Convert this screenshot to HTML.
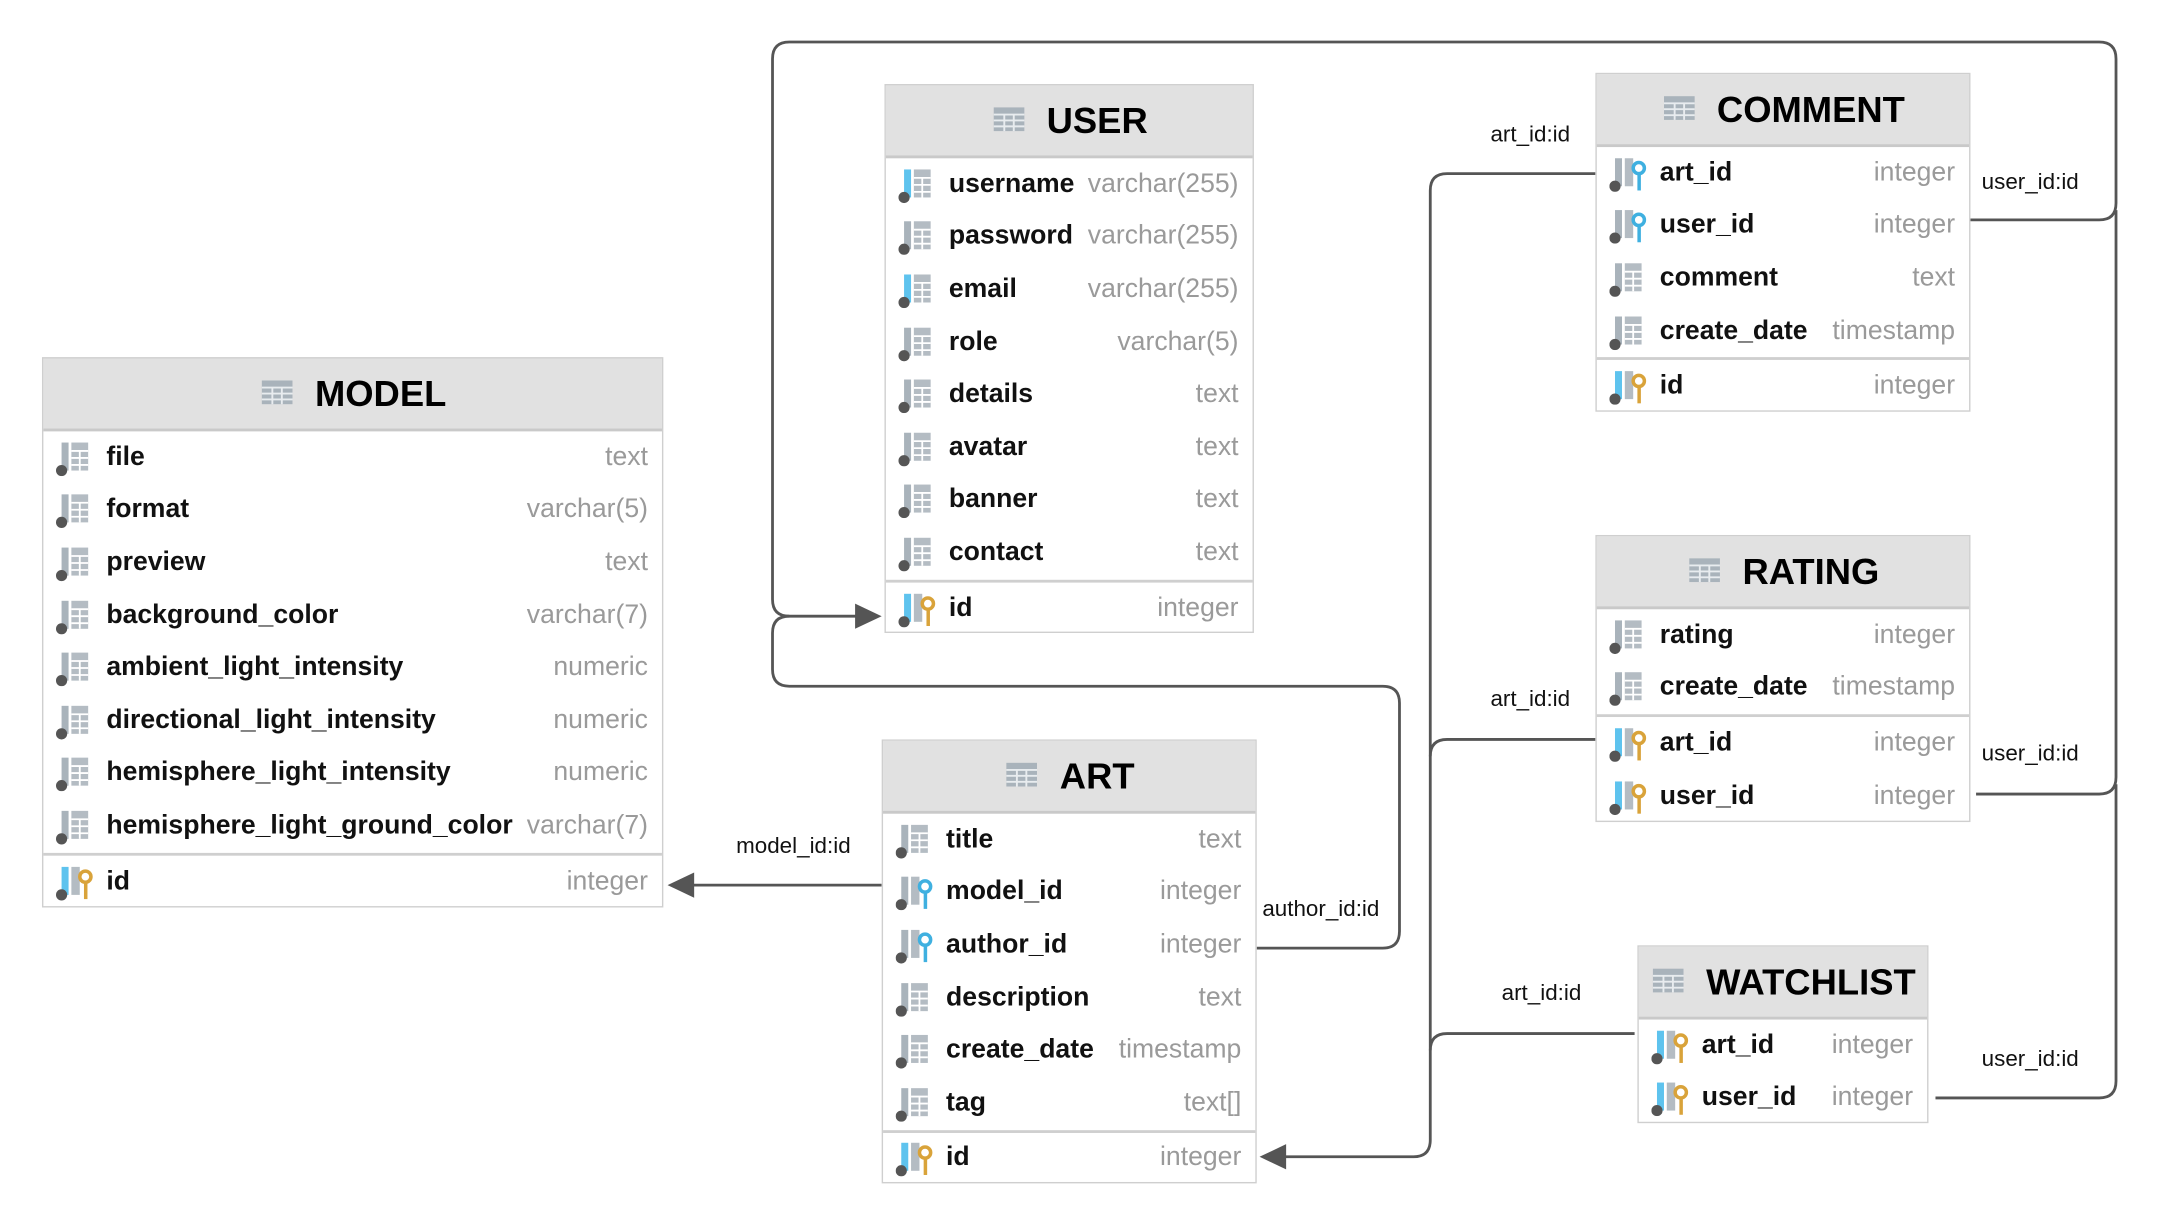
<!DOCTYPE html>
<html><head><meta charset="utf-8">
<style>
html,body{margin:0;padding:0;background:#fff;}
body{width:2172px;height:1210px;overflow:hidden;position:relative;font-family:"Liberation Sans",sans-serif;}
#w{position:absolute;left:0;top:0;width:1552px;height:864px;transform-origin:0 0;transform:scale(1.39948,1.40046);}
.t{position:absolute;background:#fff;border:1px solid #cfcfcf;box-sizing:border-box;}
.h{height:50px;background:#e1e1e1;border-bottom:2px solid #c9c9c9;display:flex;align-items:center;justify-content:center;font-weight:bold;font-size:26px;color:#000;}
.h svg{margin-right:14px;}
.r{height:37.6px;display:flex;align-items:center;padding:0 10px 0 9px;font-size:19px;white-space:nowrap;}
.r svg{flex:none;margin-right:8px;}
.n{font-weight:bold;color:#111;flex:1;}
.y{color:#9a9a9a;}
.s{border-top:2px solid #cfcfcf;}
.l{position:absolute;font-size:16px;color:#111;white-space:nowrap;}
</style></head><body>
<div id="w">
<svg width="1552" height="864" style="position:absolute;left:0;top:0" fill="none">
<defs>
<symbol id="g" viewBox="0 0 26 26"><rect x="0" y="2" width="26" height="20" fill="#a9b3bb"/><g stroke="#e8ecef" stroke-width="1.6"><line x1="0" y1="8" x2="26" y2="8"/><line x1="0" y1="13" x2="26" y2="13"/><line x1="0" y1="18" x2="26" y2="18"/><line x1="9" y1="8" x2="9" y2="22"/><line x1="17" y1="8" x2="17" y2="22"/></g></symbol>
</defs>
<g stroke="#555" stroke-width="2">
<path d="M1407,157 H1500 Q1512,157 1512,145 V42 Q1512,30 1500,30 H564 Q552,30 552,42 V428 Q552,440 564,440 H612"/>
<path d="M1412,567 H1500 Q1512,567 1512,555 V150"/>
<path d="M1383,784 H1500 Q1512,784 1512,772 V560"/>
<path d="M897,677 H988 Q1000,677 1000,665 V502 Q1000,490 988,490 H564 Q552,490 552,478 V452 Q552,440 564,440"/>
<path d="M1140,124 H1034 Q1022,124 1022,136 V814 Q1022,826 1010,826 H918"/>
<path d="M1140,528 H1034 Q1022,528 1022,540"/>
<path d="M1168,738 H1034 Q1022,738 1022,750"/>
<path d="M630,632 H495"/>
</g>
<g fill="#555">
<path d="M630,440 L611,431 L611,449 Z"/>
<path d="M900,826 L919,817 L919,835 Z"/>
<path d="M477,632 L496,623 L496,641 Z"/>
</g>
</svg>
<svg width="0" height="0" style="position:absolute">
<defs>
<symbol id="c" viewBox="0 0 28 26"><rect x="4" y="2" width="5" height="20" fill="#a9b3bb"/><rect x="11" y="2" width="12" height="20" fill="#b4bcc3"/><g stroke="#fff" stroke-width="1.3"><line x1="11" y1="8" x2="23" y2="8"/><line x1="11" y1="13" x2="23" y2="13"/><line x1="11" y1="18" x2="23" y2="18"/><line x1="17" y1="8" x2="17" y2="22"/></g><circle cx="4" cy="22" r="4" fill="#555"/></symbol>
<symbol id="cb" viewBox="0 0 28 26"><rect x="4" y="2" width="5" height="20" fill="#5ec3ee"/><rect x="11" y="2" width="12" height="20" fill="#b4bcc3"/><g stroke="#fff" stroke-width="1.3"><line x1="11" y1="8" x2="23" y2="8"/><line x1="11" y1="13" x2="23" y2="13"/><line x1="11" y1="18" x2="23" y2="18"/><line x1="17" y1="8" x2="17" y2="22"/></g><circle cx="4" cy="22" r="4" fill="#555"/></symbol>
<symbol id="fk" viewBox="0 0 28 26"><rect x="4" y="2" width="5" height="20" fill="#a9b3bb"/><rect x="11" y="2" width="6" height="20" fill="#b4bcc3"/><circle cx="21" cy="9" r="4" stroke="#3fb0e0" stroke-width="2.5" fill="#fff"/><rect x="20" y="12" width="2.5" height="13" fill="#3fb0e0"/><circle cx="4" cy="22" r="4" fill="#555"/></symbol>
<symbol id="pk" viewBox="0 0 28 26"><rect x="4" y="2" width="5" height="20" fill="#5ec3ee"/><rect x="11" y="2" width="6" height="20" fill="#b4bcc3"/><circle cx="21" cy="9" r="4" stroke="#d9a33a" stroke-width="2.5" fill="#fff"/><rect x="20" y="12" width="2.5" height="13" fill="#d9a33a"/><circle cx="4" cy="22" r="4" fill="#555"/></symbol>
<symbol id="pf" viewBox="0 0 28 26"><rect x="4" y="2" width="5" height="20" fill="#5ec3ee"/><rect x="11" y="2" width="6" height="20" fill="#b4bcc3"/><circle cx="21" cy="9" r="4" stroke="#d9a33a" stroke-width="2.5" fill="#fff"/><rect x="20" y="12" width="2.5" height="13" fill="#d9a33a"/><circle cx="4" cy="22" r="4" fill="#555"/></symbol>
</defs></svg>

<!-- MODEL -->
<div class="t" style="left:30px;top:255px;width:444px;height:393px">
<div class="h"><svg width="26" height="22" viewBox="0 0 26 26"><use href="#g"/></svg>MODEL</div>
<div class="r"><svg width="28" height="26"><use href="#c"/></svg><span class="n">file</span><span class="y">text</span></div>
<div class="r"><svg width="28" height="26"><use href="#c"/></svg><span class="n">format</span><span class="y">varchar(5)</span></div>
<div class="r"><svg width="28" height="26"><use href="#c"/></svg><span class="n">preview</span><span class="y">text</span></div>
<div class="r"><svg width="28" height="26"><use href="#c"/></svg><span class="n">background_color</span><span class="y">varchar(7)</span></div>
<div class="r"><svg width="28" height="26"><use href="#c"/></svg><span class="n">ambient_light_intensity</span><span class="y">numeric</span></div>
<div class="r"><svg width="28" height="26"><use href="#c"/></svg><span class="n">directional_light_intensity</span><span class="y">numeric</span></div>
<div class="r"><svg width="28" height="26"><use href="#c"/></svg><span class="n">hemisphere_light_intensity</span><span class="y">numeric</span></div>
<div class="r"><svg width="28" height="26"><use href="#c"/></svg><span class="n">hemisphere_light_ground_color</span><span class="y">varchar(7)</span></div>
<div class="r s"><svg width="28" height="26"><use href="#pk"/></svg><span class="n">id</span><span class="y">integer</span></div>
</div>

<!-- USER -->
<div class="t" style="left:632px;top:60px;width:264px;height:392px">
<div class="h"><svg width="26" height="22" viewBox="0 0 26 26"><use href="#g"/></svg>USER</div>
<div class="r"><svg width="28" height="26"><use href="#cb"/></svg><span class="n">username</span><span class="y">varchar(255)</span></div>
<div class="r"><svg width="28" height="26"><use href="#c"/></svg><span class="n">password</span><span class="y">varchar(255)</span></div>
<div class="r"><svg width="28" height="26"><use href="#cb"/></svg><span class="n">email</span><span class="y">varchar(255)</span></div>
<div class="r"><svg width="28" height="26"><use href="#c"/></svg><span class="n">role</span><span class="y">varchar(5)</span></div>
<div class="r"><svg width="28" height="26"><use href="#c"/></svg><span class="n">details</span><span class="y">text</span></div>
<div class="r"><svg width="28" height="26"><use href="#c"/></svg><span class="n">avatar</span><span class="y">text</span></div>
<div class="r"><svg width="28" height="26"><use href="#c"/></svg><span class="n">banner</span><span class="y">text</span></div>
<div class="r"><svg width="28" height="26"><use href="#c"/></svg><span class="n">contact</span><span class="y">text</span></div>
<div class="r s"><svg width="28" height="26"><use href="#pk"/></svg><span class="n">id</span><span class="y">integer</span></div>
</div>

<!-- COMMENT -->
<div class="t" style="left:1140px;top:52px;width:268px;height:242px">
<div class="h"><svg width="26" height="22" viewBox="0 0 26 26"><use href="#g"/></svg>COMMENT</div>
<div class="r"><svg width="28" height="26"><use href="#fk"/></svg><span class="n">art_id</span><span class="y">integer</span></div>
<div class="r"><svg width="28" height="26"><use href="#fk"/></svg><span class="n">user_id</span><span class="y">integer</span></div>
<div class="r"><svg width="28" height="26"><use href="#c"/></svg><span class="n">comment</span><span class="y">text</span></div>
<div class="r"><svg width="28" height="26"><use href="#c"/></svg><span class="n">create_date</span><span class="y">timestamp</span></div>
<div class="r s"><svg width="28" height="26"><use href="#pk"/></svg><span class="n">id</span><span class="y">integer</span></div>
</div>

<!-- RATING -->
<div class="t" style="left:1140px;top:382px;width:268px;height:205px">
<div class="h"><svg width="26" height="22" viewBox="0 0 26 26"><use href="#g"/></svg>RATING</div>
<div class="r"><svg width="28" height="26"><use href="#c"/></svg><span class="n">rating</span><span class="y">integer</span></div>
<div class="r"><svg width="28" height="26"><use href="#c"/></svg><span class="n">create_date</span><span class="y">timestamp</span></div>
<div class="r s"><svg width="28" height="26"><use href="#pf"/></svg><span class="n">art_id</span><span class="y">integer</span></div>
<div class="r"><svg width="28" height="26"><use href="#pf"/></svg><span class="n">user_id</span><span class="y">integer</span></div>
</div>

<!-- WATCHLIST -->
<div class="t" style="left:1170px;top:675px;width:208px;height:127px">
<div class="h"><svg width="26" height="22" viewBox="0 0 26 26"><use href="#g"/></svg>WATCHLIST</div>
<div class="r"><svg width="28" height="26"><use href="#pf"/></svg><span class="n">art_id</span><span class="y">integer</span></div>
<div class="r"><svg width="28" height="26"><use href="#pf"/></svg><span class="n">user_id</span><span class="y">integer</span></div>
</div>

<!-- ART -->
<div class="t" style="left:630px;top:528px;width:268px;height:317px">
<div class="h"><svg width="26" height="22" viewBox="0 0 26 26"><use href="#g"/></svg>ART</div>
<div class="r"><svg width="28" height="26"><use href="#c"/></svg><span class="n">title</span><span class="y">text</span></div>
<div class="r"><svg width="28" height="26"><use href="#fk"/></svg><span class="n">model_id</span><span class="y">integer</span></div>
<div class="r"><svg width="28" height="26"><use href="#fk"/></svg><span class="n">author_id</span><span class="y">integer</span></div>
<div class="r"><svg width="28" height="26"><use href="#c"/></svg><span class="n">description</span><span class="y">text</span></div>
<div class="r"><svg width="28" height="26"><use href="#c"/></svg><span class="n">create_date</span><span class="y">timestamp</span></div>
<div class="r"><svg width="28" height="26"><use href="#c"/></svg><span class="n">tag</span><span class="y">text[]</span></div>
<div class="r s"><svg width="28" height="26"><use href="#pk"/></svg><span class="n">id</span><span class="y">integer</span></div>
</div>

<div class="l" style="left:1065px;top:88px">art_id:id</div>
<div class="l" style="left:1065px;top:491px">art_id:id</div>
<div class="l" style="left:1073px;top:701px">art_id:id</div>
<div class="l" style="left:1416px;top:122px">user_id:id</div>
<div class="l" style="left:1416px;top:530px">user_id:id</div>
<div class="l" style="left:1416px;top:748px">user_id:id</div>
<div class="l" style="left:526px;top:596px">model_id:id</div>
<div class="l" style="left:902px;top:641px">author_id:id</div>
</div>
</body></html>
